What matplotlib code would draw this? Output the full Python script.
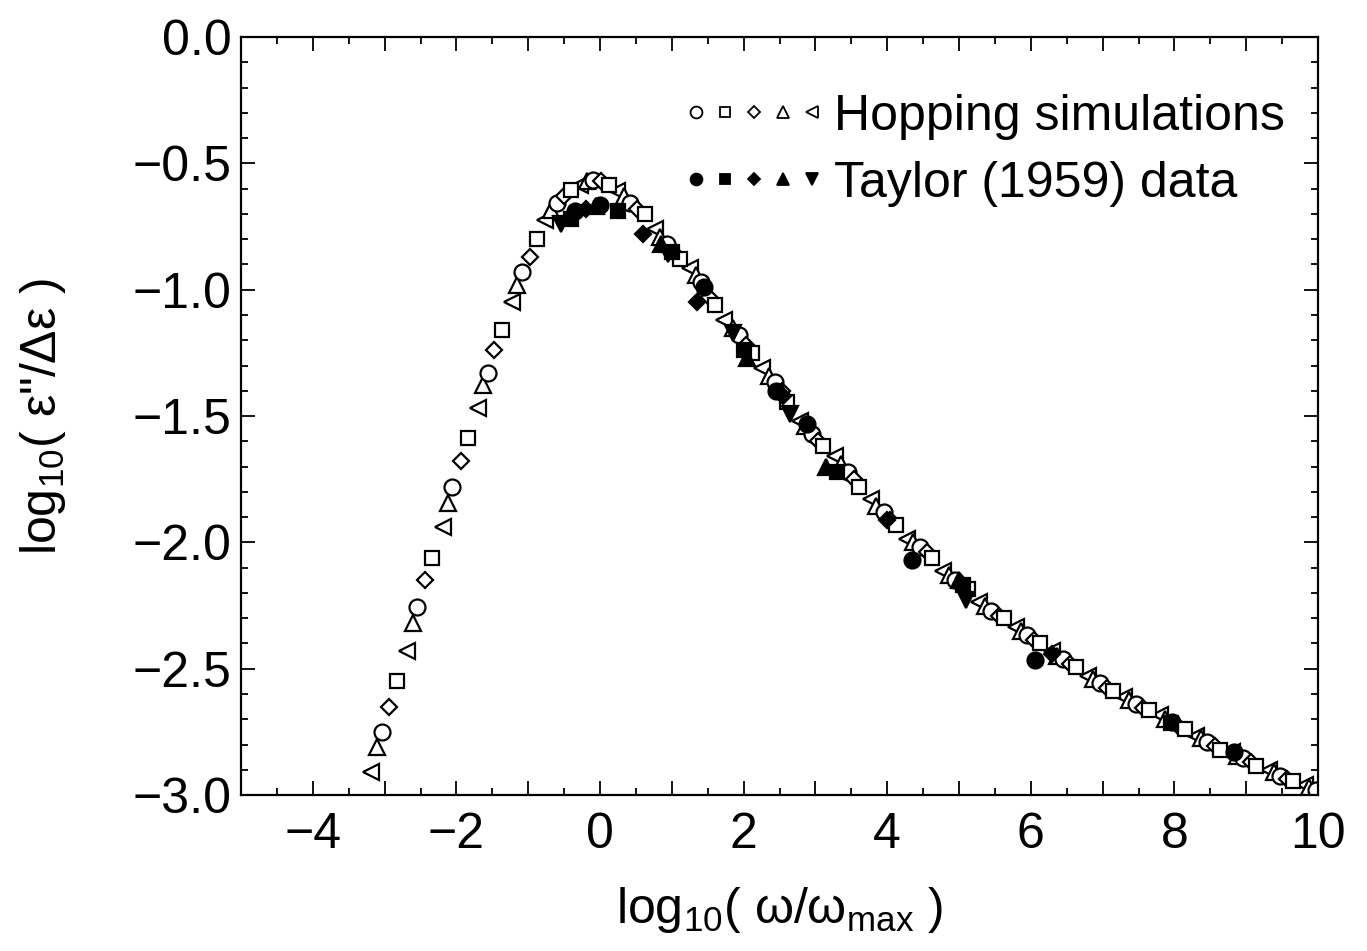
import matplotlib
matplotlib.use('Agg')
import matplotlib.pyplot as plt
from matplotlib.lines import Line2D
from matplotlib.legend_handler import HandlerTuple
from matplotlib.ticker import MultipleLocator

plt.rcParams['font.family'] = ['Liberation Sans', 'DejaVu Sans']
plt.rcParams['mathtext.fontset'] = 'custom'
plt.rcParams['mathtext.rm'] = 'Liberation Sans'
plt.rcParams['mathtext.it'] = 'Liberation Sans:italic'

# hopping simulations (open markers), one list pair per run
circ_x = [-3.04, -2.55, -2.06, -1.56, -1.09, -0.60, -0.10, 0.42, 0.93, 1.41, 1.94, 2.43, 2.95, 3.45,
          3.95, 4.45, 4.95, 5.45, 5.95, 6.45, 6.96, 7.46, 7.96, 8.46, 8.96, 9.47, 9.97]
circ_y = [-2.75, -2.256, -1.78, -1.33, -0.93, -0.655, -0.565, -0.655, -0.82, -0.97, -1.18, -1.365, -1.57, -1.72,
          -1.88, -2.02, -2.15, -2.27, -2.365, -2.46, -2.555, -2.64, -2.71, -2.79, -2.855, -2.925, -2.98]

tril_x = [-3.19, -2.69, -2.19, -1.70, -1.23, -0.77, -0.28, 0.24, 0.76, 1.25, 1.73, 2.26, 2.78, 3.27,
          3.78, 4.28, 4.78, 5.28, 5.79, 6.29, 6.80, 7.30, 7.80, 8.30, 8.80, 9.31, 9.82]
tril_y = [-2.91, -2.43, -1.94, -1.47, -1.05, -0.724, -0.585, -0.61, -0.76, -0.914, -1.12, -1.31, -1.52, -1.66,
          -1.83, -1.985, -2.115, -2.235, -2.335, -2.43, -2.53, -2.61, -2.685, -2.765, -2.83, -2.90, -2.96]

triu_x = [-3.11, -2.61, -2.12, -1.63, -1.15, -0.68, -0.18, 0.33, 0.84, 1.33, 1.85, 2.35, 2.86, 3.36,
          3.85, 4.36, 4.86, 5.36, 5.86, 6.37, 6.87, 7.37, 7.87, 8.37, 8.87, 9.38, 9.88]
triu_y = [-2.81, -2.32, -1.844, -1.377, -0.98, -0.685, -0.57, -0.63, -0.79, -0.94, -1.15, -1.34, -1.54, -1.69,
          -1.855, -2.00, -2.13, -2.25, -2.35, -2.45, -2.54, -2.625, -2.70, -2.775, -2.845, -2.91, -2.97]

diam_x = [-2.94, -2.44, -1.94, -1.47, -0.98, -0.50, 0.01, 0.52, 1.03, 1.52, 2.03, 2.53, 3.04, 3.54,
          4.04, 4.55, 5.05, 5.55, 6.05, 6.55, 7.06, 7.56, 8.06, 8.56, 9.06, 9.57]
diam_y = [-2.65, -2.15, -1.678, -1.24, -0.87, -0.63, -0.57, -0.68, -0.855, -1.03, -1.22, -1.40, -1.60, -1.75,
          -1.91, -2.04, -2.17, -2.29, -2.385, -2.48, -2.575, -2.655, -2.73, -2.805, -2.87, -2.935]

sq_x = [-2.83, -2.34, -1.84, -1.37, -0.88, -0.40, 0.12, 0.62, 1.12, 1.60, 2.12, 2.61, 3.10, 3.61,
        4.12, 4.63, 5.13, 5.63, 6.13, 6.63, 7.14, 7.64, 8.14, 8.64, 9.14, 9.65]
sq_y = [-2.55, -2.06, -1.587, -1.16, -0.80, -0.605, -0.585, -0.70, -0.88, -1.06, -1.25, -1.444, -1.62, -1.78,
        -1.93, -2.06, -2.185, -2.30, -2.40, -2.495, -2.59, -2.665, -2.74, -2.82, -2.885, -2.945]

# Taylor (1959) data (filled markers)
tc_x = [-0.35, 0.0, 1.45, 2.45, 2.88, 4.35, 6.06, 8.83]
tc_y = [-0.69, -0.665, -0.99, -1.40, -1.53, -2.07, -2.465, -2.83]
ts_x = [-0.40, 0.25, 1.0, 2.0, 3.3, 5.05, 7.95]
ts_y = [-0.72, -0.69, -0.85, -1.24, -1.72, -2.17, -2.715]
td_x = [-0.2, 0.6, 1.35, 2.55, 4.0, 6.3]
td_y = [-0.68, -0.78, -1.05, -1.42, -1.91, -2.44]
tu_x = [-0.05, 0.85, 2.05, 3.15, 5.0]
tu_y = [-0.67, -0.82, -1.27, -1.70, -2.15]
tdn_x = [-0.55, 0.95, 1.85, 2.65, 5.1]
tdn_y = [-0.74, -0.86, -1.17, -1.49, -2.23]

fig = plt.figure(figsize=(13.67, 9.51), dpi=100)
ax = fig.add_axes([0.1763, 0.164, 0.7879, 0.797])

ms = 11.5
mew = 1.6
open_kw = dict(ls='none', mfc='white', mec='black', mew=mew, ms=ms)
ax.plot(tril_x, tril_y, marker='<', **open_kw)
ax.plot(triu_x, triu_y, marker='^', **open_kw)
ax.plot(circ_x, circ_y, marker='o', **open_kw)
ax.plot(diam_x, diam_y, marker='D', **dict(open_kw, ms=ms * 0.75))
ax.plot(sq_x, sq_y, marker='s', **dict(open_kw, ms=ms * 0.9))

fill_kw = dict(ls='none', mfc='black', mec='black', mew=mew, ms=ms)
ax.plot(tc_x, tc_y, marker='o', **fill_kw)
ax.plot(ts_x, ts_y, marker='s', **dict(fill_kw, ms=ms * 0.9))
ax.plot(td_x, td_y, marker='D', **dict(fill_kw, ms=ms * 0.75))
ax.plot(tu_x, tu_y, marker='^', **fill_kw)
ax.plot(tdn_x, tdn_y, marker='v', **fill_kw)

ax.set_xlim(-5, 10)
ax.set_ylim(-3, 0)
ax.xaxis.set_minor_locator(MultipleLocator(0.5))
ax.yaxis.set_minor_locator(MultipleLocator(0.1))
ax.set_xticks(range(-5, 11))
ax.set_xticklabels(['' if v % 2 else str(v).replace('-', '\u2212') for v in range(-5, 11)])
ax.set_yticks([0, -0.5, -1, -1.5, -2, -2.5, -3])
ax.set_yticklabels(['0.0', '\u22120.5', '\u22121.0', '\u22121.5', '\u22122.0', '\u22122.5', '\u22123.0'])
ax.tick_params(which='both', direction='in', top=True, right=True, width=1.3, labelsize=36)
ax.tick_params(which='major', length=10)
ax.tick_params(axis='y', which='major', pad=7)
ax.tick_params(axis='x', which='major', pad=12)
ax.tick_params(which='minor', length=5)
for s in ax.spines.values():
    s.set_linewidth(1.6)

ax.set_xlabel('log$_{10}$( ω/ω$_{\\mathrm{max}}$ )', fontsize=36, labelpad=20)
ax.set_ylabel('log$_{10}$( ε"/Δε )', fontsize=36, labelpad=46)

lms = 8.5
hop = tuple(Line2D([], [], ls='none', marker=m, mfc='white', mec='black', mew=1.3, ms=lms * f)
            for m, f in [('o', 1), ('s', 0.9), ('D', 0.75), ('^', 1), ('<', 1)])
tay = tuple(Line2D([], [], ls='none', marker=m, mfc='black', mec='black', mew=1.3, ms=lms * f)
            for m, f in [('o', 1), ('s', 0.9), ('D', 0.75), ('^', 1), ('v', 1)])
ax.legend([hop, tay], ['Hopping simulations', 'Taylor (1959) data'],
          handler_map={tuple: HandlerTuple(ndivide=None, pad=0.3)},
          loc='upper right', bbox_to_anchor=(0.992, 0.958), frameon=False, fontsize=36,
          handlelength=2.6, handletextpad=0.3, labelspacing=0.42, borderpad=0)

fig.savefig('out.png', dpi=100)
